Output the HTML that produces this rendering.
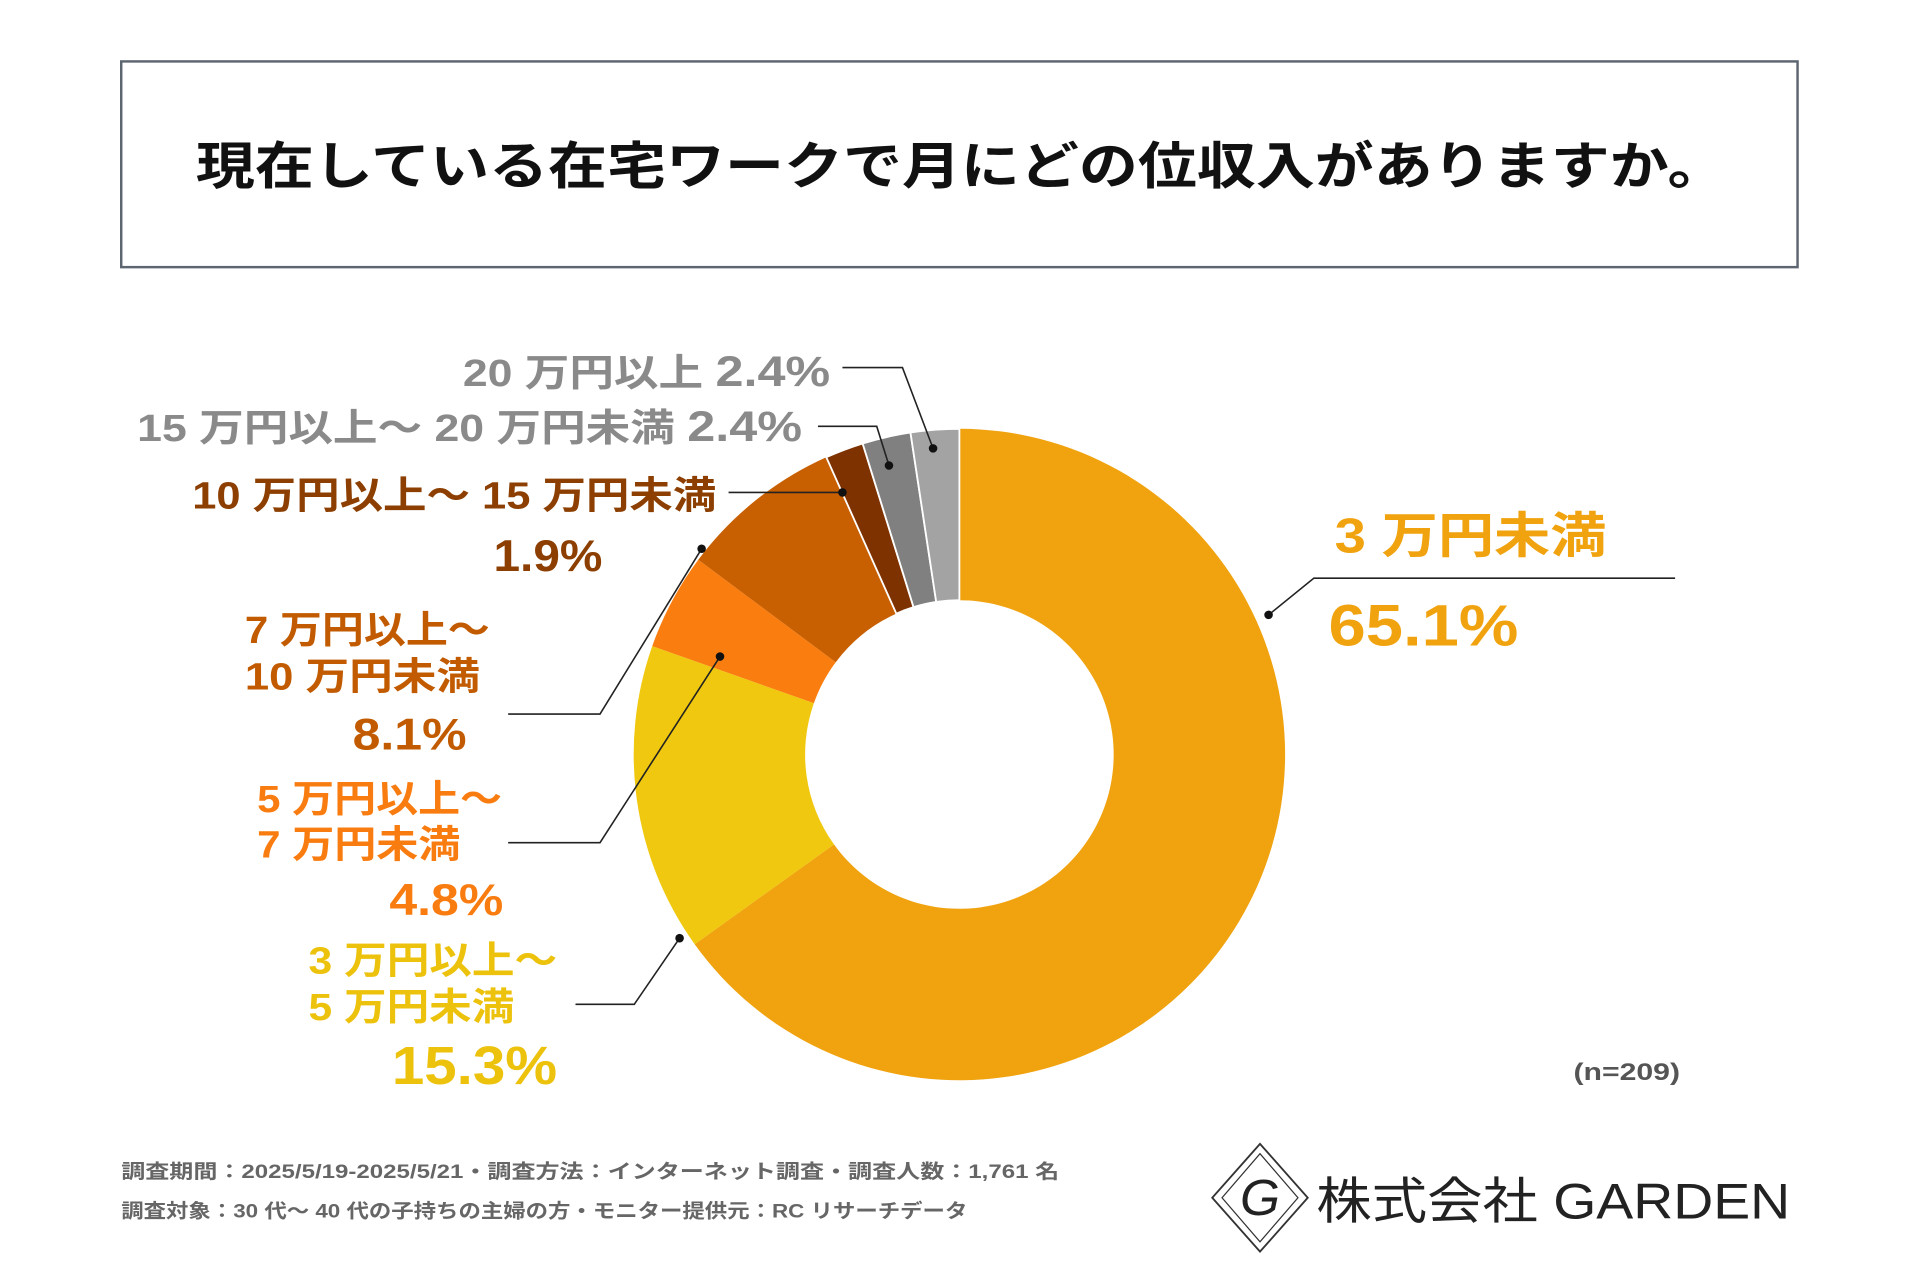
<!DOCTYPE html>
<html><head><meta charset="utf-8">
<style>
html,body{margin:0;padding:0;background:#fff;}
svg{display:block;}
text{font-family:"Liberation Sans","Noto Sans CJK JP",sans-serif;}
</style></head>
<body>
<svg id="chart" width="1920" height="1280" viewBox="0 0 1568 1045" xmlns="http://www.w3.org/2000/svg">
<rect x="0" y="0" width="1568" height="1045" fill="#fff"/>
<rect x="99" y="50" width="1369" height="168" fill="#fff" stroke="#5d6670" stroke-width="2"/>
<text x="160" y="150" textLength="1250" lengthAdjust="spacingAndGlyphs" font-size="42" font-weight="bold" fill="#111">現在している在宅ワークで月にどの位収入がありますか。</text>
<g id="slices"></g>
<g fill="none" stroke="#222" stroke-width="1.3">
<polyline points="688,300 737,300 762,366"/>
<polyline points="668,348 716,348 726,380"/>
<polyline points="595,402 688,402"/>
<polyline points="415,583 490,583 573,448"/>
<polyline points="415,688 490,688 588,536"/>
<polyline points="470,820 518,820 555,766"/>
<polyline points="1368,472 1073,472 1036,502"/>
</g>
<g fill="#111">
<circle cx="762" cy="366" r="3.5"/><circle cx="726" cy="380" r="3.5"/><circle cx="688" cy="402" r="3.5"/>
<circle cx="573" cy="448" r="3.5"/><circle cx="588" cy="536" r="3.5"/><circle cx="555" cy="766" r="3.5"/><circle cx="1036" cy="502" r="3.5"/>
</g>
<g font-weight="bold" lengthAdjust="spacingAndGlyphs">
<text x="378" y="315" textLength="300" lengthAdjust="spacingAndGlyphs" font-size="31" fill="#8a8a8a">20 万円以上 <tspan font-size="35">2.4%</tspan></text>
<text x="112" y="360" textLength="543" lengthAdjust="spacingAndGlyphs" font-size="31" fill="#8a8a8a">15 万円以上～ 20 万円未満 <tspan font-size="35">2.4%</tspan></text>
<text x="157" y="415" textLength="428" lengthAdjust="spacingAndGlyphs" font-size="31" fill="#8c3f00">10 万円以上～ 15 万円未満</text>
<text x="403" y="466" textLength="89" lengthAdjust="spacingAndGlyphs" font-size="36" fill="#8c3f00">1.9%</text>
<text x="200" y="525" textLength="200" lengthAdjust="spacingAndGlyphs" font-size="31" fill="#c25b00">7 万円以上～</text>
<text x="200" y="563" textLength="192" lengthAdjust="spacingAndGlyphs" font-size="31" fill="#c25b00">10 万円未満</text>
<text x="288" y="612" textLength="93" lengthAdjust="spacingAndGlyphs" font-size="36" fill="#c25b00">8.1%</text>
<text x="210" y="663" textLength="200" lengthAdjust="spacingAndGlyphs" font-size="31" fill="#f97c10">5 万円以上～</text>
<text x="210" y="700" textLength="166" lengthAdjust="spacingAndGlyphs" font-size="31" fill="#f97c10">7 万円未満</text>
<text x="318" y="747" textLength="93" lengthAdjust="spacingAndGlyphs" font-size="36" fill="#f97c10">4.8%</text>
<text x="252" y="795" textLength="203" lengthAdjust="spacingAndGlyphs" font-size="31" fill="#ecc20c">3 万円以上～</text>
<text x="252" y="833" textLength="168" lengthAdjust="spacingAndGlyphs" font-size="31" fill="#ecc20c">5 万円未満</text>
<text x="320" y="885" textLength="135" lengthAdjust="spacingAndGlyphs" font-size="44" fill="#ecc20c">15.3%</text>
<text x="1090" y="451" textLength="222" lengthAdjust="spacingAndGlyphs" font-size="40" fill="#f0a30f">3 万円未満</text>
<text x="1085" y="527" textLength="155" lengthAdjust="spacingAndGlyphs" font-size="48" fill="#f0a30f">65.1%</text>
<text x="1285" y="882" textLength="87" lengthAdjust="spacingAndGlyphs" font-size="20" fill="#555">(n=209)</text>
<text x="99" y="962" textLength="766" lengthAdjust="spacingAndGlyphs" font-size="16" fill="#666">調査期間：2025/5/19-2025/5/21・調査方法：インターネット調査・調査人数：1,761 名</text>
<text x="99" y="994" textLength="691" lengthAdjust="spacingAndGlyphs" font-size="16" fill="#666">調査対象：30 代～ 40 代の子持ちの主婦の方・モニター提供元：RC リサーチデータ</text>
</g>
<g>
<polygon points="1029,934 1068,978 1029,1022 990,978" fill="none" stroke="#333" stroke-width="1.5"/>
<polygon points="1029,942 1060,978 1029,1014 998,978" fill="none" stroke="#333" stroke-width="1"/>
<text x="1029" y="992" text-anchor="middle" font-size="42" font-style="italic" font-family="Liberation Serif,serif" fill="#222">G</text>
<text x="1075" y="995" textLength="387" lengthAdjust="spacingAndGlyphs" font-size="41" fill="#222">株式会社 GARDEN</text>
</g>
</svg>
<script>
const categories = ["3万円未満","3万円以上～5万円未満","5万円以上～7万円未満","7万円以上～10万円未満","10万円以上～15万円未満","15万円以上～20万円未満","20万円以上"];
const values = [65.1, 15.3, 4.8, 8.1, 1.9, 2.4, 2.4];
const colors = ["#f0a30f","#f0c80f","#fa7d0f","#c85f00","#7d3200","#808080","#a3a3a3"];
const cx = 783.5, cy = 616, R = 266, r = 126;
const g = document.getElementById('slices');
const total = values.reduce((a,b)=>a+b,0);
function pt(a, rad){ return [cx + rad*Math.sin(a), cy - rad*Math.cos(a)]; }
let acc = 0;
values.forEach((v,i)=>{
  const a0 = acc/total*2*Math.PI; acc += v;
  const a1 = acc/total*2*Math.PI;
  const large = (a1-a0) > Math.PI ? 1 : 0;
  const [x0,y0]=pt(a0,R),[x1,y1]=pt(a1,R),[x2,y2]=pt(a1,r),[x3,y3]=pt(a0,r);
  const p = document.createElementNS('http://www.w3.org/2000/svg','path');
  p.setAttribute('d',`M${x0},${y0} A${R},${R} 0 ${large} 1 ${x1},${y1} L${x2},${y2} A${r},${r} 0 ${large} 0 ${x3},${y3} Z`);
  p.setAttribute('fill',colors[i]);
  p.setAttribute('stroke','#fff');
  p.setAttribute('stroke-width', i>=4 ? '1.5' : '0');
  
  
  g.appendChild(p);
});
</script>
</body></html>
